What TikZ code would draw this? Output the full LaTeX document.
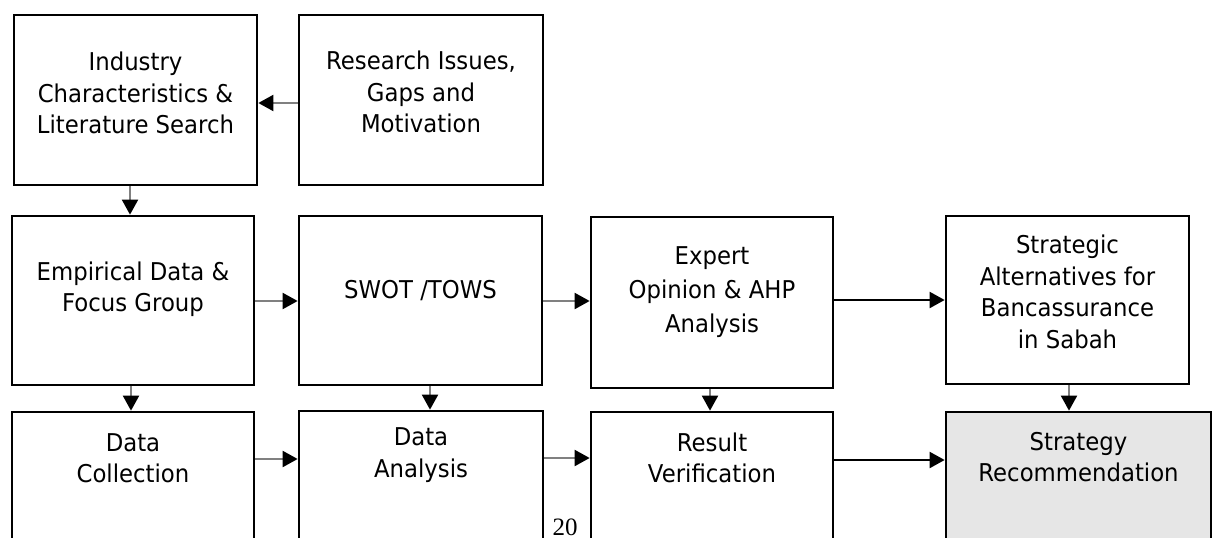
\documentclass[tikz,border=0pt]{standalone}
\usepackage{fontspec}
\setmainfont{DejaVu Sans}[FakeStretch=0.93]
\newfontfamily\numfont{Liberation Serif}
\usetikzlibrary{arrows.meta}
\definecolor{linegray}{HTML}{808080}
\definecolor{boxgray}{HTML}{E6E6E6}
\begin{document}
\begin{tikzpicture}[x=1pt,y=-1pt,
  box/.style={draw=black, line width=2.7pt, fill=white, rectangle, inner sep=0pt},
  txt/.style={align=center, inner sep=0pt, font=\fontsize{24.5}{31.5}\selectfont},
  garrow/.style={draw=linegray, line width=2pt, -{Triangle[length=15pt,width=16pt,color=black,fill=black]}},
  barrow/.style={draw=black, line width=2pt, -{Triangle[length=15pt,width=16pt]}}]
\useasboundingbox (0,0) rectangle (1213,538);
\fill[white] (0,0) rectangle (1213,538);
\clip (0,0) rectangle (1213,538);
% row 1
\node[box, minimum width=243pt, minimum height=170pt] (ind) at (135.5,100) {};
\node[box, minimum width=244pt, minimum height=170pt] (res) at (421,100) {};
% row 2
\node[box, minimum width=242pt, minimum height=169pt] (emp) at (133,300.5) {};
\node[box, minimum width=243pt, minimum height=169pt] (swot) at (420.5,300.5) {};
\node[box, minimum width=242pt, minimum height=171pt] (exp) at (712,302.5) {};
\node[box, minimum width=243pt, minimum height=168pt] (str) at (1067.5,300) {};
% row 3
\node[box, minimum width=242pt, minimum height=188pt] (dc) at (133,506) {};
\node[box, minimum width=244pt, minimum height=189pt] (da) at (421,505.5) {};
\node[box, minimum width=242pt, minimum height=188pt] (rv) at (712,506) {};
\node[box, fill=boxgray, minimum width=265pt, minimum height=188pt] (rec) at (1078.5,506) {};
% texts
\node[txt] (indt) at (135.5,93) {Industry\\Characteristics \&\\Literature Search};
\node[txt] (rest) at (421,92) {Research Issues,\\Gaps and\\Motivation};
\node[txt] (empt) at (133,289) {Empirical Data \&\\Focus Group};
\node[txt] (swott) at (420.5,291) {SWOT /TOWS};
\node[txt, font=\fontsize{24.5}{34}\selectfont] (expt) at (712,292) {Expert\\Opinion \& AHP\\Analysis};
\node[txt] (strt) at (1067.5,292) {Strategic\\Alternatives for\\Bancassurance\\in Sabah};
\node[txt] (dct) at (133,458) {Data\\Collection};
\node[txt] (dat) at (421,455) {Data\\Analysis};
\node[txt] (rvt) at (712,458) {Result\\Verification};
\node[txt] (rect) at (1078.5,457) {Strategy\\Recommendation};
\node[inner sep=0pt, font=\numfont\fontsize{25}{25}\selectfont] (pg) at (565,527.5) {20};
% helper coordinates
\coordinate (h1) at (0,103);
\coordinate (h2) at (0,301);
\coordinate (h3) at (0,300);
\coordinate (h4) at (0,459);
\coordinate (h5) at (0,458);
\coordinate (h6) at (0,460);
\coordinate (v1) at (130,0);
\coordinate (v2) at (131,0);
\coordinate (v3) at (430,0);
\coordinate (v4) at (710,0);
\coordinate (v5) at (1069,0);
% connectors
\draw[garrow] (res.west |- h1) -- (ind.east |- h1);
\draw[garrow] (ind.south -| v1) -- (emp.north -| v1);
\draw[garrow] (emp.east |- h2) -- (swot.west |- h2);
\draw[garrow] (swot.east |- h2) -- (exp.west |- h2);
\draw[barrow] (exp.east |- h3) -- (str.west |- h3);
\draw[garrow] (emp.south -| v2) -- (dc.north -| v2);
\draw[garrow] (swot.south -| v3) -- (da.north -| v3);
\draw[garrow] (exp.south -| v4) -- (rv.north -| v4);
\draw[garrow] (str.south -| v5) -- (rec.north -| v5);
\draw[garrow] (dc.east |- h4) -- (da.west |- h4);
\draw[garrow] (da.east |- h5) -- (rv.west |- h5);
\draw[barrow] (rv.east |- h6) -- (rec.west |- h6);
\end{tikzpicture}
\end{document}
